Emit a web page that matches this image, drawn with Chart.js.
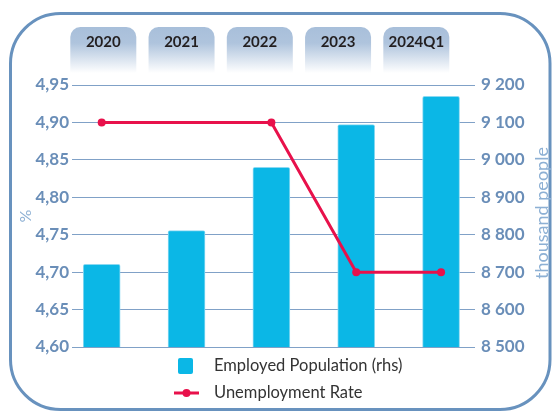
<!DOCTYPE html>
<html>
<head>
<meta charset="utf-8">
<script src="https://cdn.jsdelivr.net/npm/chart.js@4"></script>
<style>
  html, body { margin: 0; padding: 0; background: #fff; }
</style>
</head>
<body>
<canvas id="myChart" width="552" height="412"></canvas>
<script>
const years = ['2020', '2021', '2022', '2023', '2024Q1'];
const employedData = [8721, 8811, 8980, 9094, 9170];
const unemploymentData = [4.9, null, 4.9, 4.7, 4.7];
const rateTicks = [4.60, 4.65, 4.70, 4.75, 4.80, 4.85, 4.90, 4.95];
const peopleTicks = [8500, 8600, 8700, 8800, 8900, 9000, 9100, 9200];

const FONT = 'Lato, "Noto Sans", sans-serif';
const AXIS_BLUE = '#6a8eb8';
const TITLE_BLUE = '#8db0d4';
const BAR_COLOR = '#0bb7e6';
const LINE_COLOR = '#e8114b';

function fmtRate(v) {
  return v.toFixed(2).replace('.', ',');
}
function fmtPeople(v) {
  return Math.floor(v / 1000) + ' ' + String(v % 1000).padStart(3, '0');
}

// rounded frame around the whole chart
const framePlugin = {
  id: 'frame',
  beforeDraw(chart) {
    const ctx = chart.ctx;
    ctx.save();
    ctx.strokeStyle = '#6892be';
    ctx.lineWidth = 3;
    ctx.beginPath();
    ctx.roundRect(10.5, 13.5, 539.5, 396, 50);
    ctx.stroke();
    ctx.restore();
  }
};

// year tabs along the top
const tabsPlugin = {
  id: 'tabs',
  beforeDatasetsDraw(chart) {
    const ctx = chart.ctx;
    const x2 = chart.scales.x2;
    const w = 66, top = 27, h = 46;
    ctx.save();
    years.forEach((yr, i) => {
      const cx = x2.getPixelForValue(i);
      const g = ctx.createLinearGradient(0, top, 0, top + h);
      g.addColorStop(0, '#a8bfda');
      g.addColorStop(0.35, '#afc4dd');
      g.addColorStop(1, '#ffffff');
      ctx.fillStyle = g;
      ctx.beginPath();
      ctx.roundRect(cx - w / 2, top, w, h, [10, 10, 0, 0]);
      ctx.fill();
      ctx.fillStyle = '#231f20';
      ctx.font = 'bold 15px ' + FONT;
      ctx.textAlign = 'center';
      ctx.textBaseline = 'middle';
      ctx.fillText(yr, cx, 42);
    });
    ctx.restore();
  }
};

// right axis title, reading bottom to top
const rightTitlePlugin = {
  id: 'rightTitle',
  afterDraw(chart) {
    const ctx = chart.ctx;
    const s = chart.scales.y1;
    ctx.save();
    ctx.translate(542, (s.top + s.bottom) / 2 - 3);
    ctx.rotate(-Math.PI / 2);
    ctx.fillStyle = TITLE_BLUE;
    ctx.font = '18px ' + FONT;
    ctx.textAlign = 'center';
    ctx.textBaseline = 'middle';
    ctx.fillText('thousand people', 0, 0);
    ctx.restore();
  }
};

// stacked legend under the plot
const legendPlugin = {
  id: 'stackLegend',
  afterDraw(chart) {
    const ctx = chart.ctx;
    const rows = [366, 393];
    ctx.save();
    chart.data.datasets.forEach((ds, i) => {
      const y = rows[i];
      if (ds.type === 'bar') {
        ctx.fillStyle = ds.backgroundColor;
        ctx.beginPath();
        ctx.roundRect(178, y - 8, 15, 16, 2);
        ctx.fill();
      } else {
        ctx.strokeStyle = ds.borderColor;
        ctx.lineWidth = 3;
        ctx.beginPath();
        ctx.moveTo(174, y);
        ctx.lineTo(199, y);
        ctx.stroke();
        ctx.fillStyle = ds.borderColor;
        ctx.beginPath();
        ctx.arc(186.5, y, 4, 0, Math.PI * 2);
        ctx.fill();
      }
      ctx.fillStyle = '#333333';
      ctx.font = '16.5px ' + FONT;
      ctx.textAlign = 'left';
      ctx.textBaseline = 'middle';
      ctx.fillText(ds.label, 214, y);
    });
    ctx.restore();
  }
};

const ctx = document.getElementById('myChart').getContext('2d');
const myChart = new Chart(ctx, {
  type: 'bar',
  data: {
    datasets: [
      {
        type: 'bar',
        label: 'Employed Population (rhs)',
        data: employedData.map((v, i) => ({ x: i, y: v })),
        xAxisID: 'x',
        yAxisID: 'y1',
        backgroundColor: BAR_COLOR,
        borderColor: '#8bd9f2',
        borderWidth: 1,
        borderRadius: 2,
        barThickness: 37,
        order: 2
      },
      {
        type: 'line',
        label: 'Unemployment Rate',
        data: unemploymentData.map((v, i) => ({ x: i, y: v })),
        xAxisID: 'x',
        yAxisID: 'y',
        borderColor: LINE_COLOR,
        backgroundColor: LINE_COLOR,
        borderWidth: 3,
        pointRadius: 4,
        pointHoverRadius: 4,
        pointBorderWidth: 0,
        spanGaps: true,
        tension: 0,
        order: 1
      }
    ]
  },
  options: {
    responsive: false,
    animation: false,
    layout: { padding: { left: 0, right: 0, top: 85, bottom: 65 } },
    plugins: {
      legend: { display: false },
      tooltip: { enabled: false }
    },
    scales: {
      x: { type: 'linear', min: -0.35, max: 4.4, bounds: 'data', offset: false, display: false },
      x2: { type: 'linear', min: -0.4, max: 4.75, bounds: 'data', offset: false, display: false },
      y: {
        position: 'left',
        min: 4.6,
        max: 4.95,
        afterBuildTicks: s => { s.ticks = rateTicks.map(v => ({ value: v })); },
        afterFit: s => { s.width = 72; },
        border: { display: false },
        grid: { color: '#80a1c7', lineWidth: 1, drawTicks: false },
        ticks: {
          padding: 3,
          color: AXIS_BLUE,
          font: { family: FONT, size: 17, weight: 'bold' },
          callback: v => fmtRate(v)
        },
        title: {
          display: true,
          text: '%',
          color: TITLE_BLUE,
          font: { family: FONT, size: 16 },
          padding: { top: 16, bottom: 0 }
        }
      },
      y1: {
        position: 'right',
        min: 8500,
        max: 9200,
        afterBuildTicks: s => { s.ticks = peopleTicks.map(v => ({ value: v })); },
        afterFit: s => { s.width = 77; },
        border: { display: false },
        grid: { display: false, drawTicks: false },
        ticks: {
          padding: 6,
          color: AXIS_BLUE,
          font: { family: FONT, size: 17, weight: 'bold' },
          callback: v => fmtPeople(v)
        }
      }
    }
  },
  plugins: [framePlugin, tabsPlugin, rightTitlePlugin, legendPlugin]
});
</script>
</body>
</html>
